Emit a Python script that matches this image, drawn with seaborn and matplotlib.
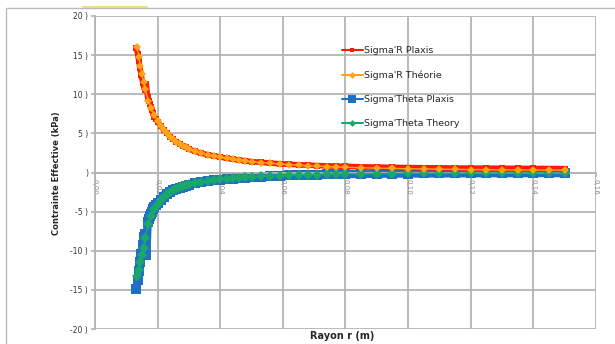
import matplotlib
matplotlib.use("Agg")
import matplotlib.pyplot as plt
import seaborn as sns
import pandas as pd
from matplotlib.patches import Rectangle
from matplotlib.lines import Line2D

# ---------------- data ----------------
r_theory = [0.0135, 0.014, 0.0145, 0.015, 0.0155, 0.016, 0.017, 0.018, 0.019, 0.020,
            0.021, 0.022, 0.023, 0.024, 0.025, 0.026, 0.027, 0.028, 0.029, 0.030,
            0.032, 0.034, 0.036, 0.038, 0.040, 0.042, 0.044, 0.046, 0.048, 0.050,
            0.053, 0.056, 0.059, 0.062, 0.065, 0.068, 0.071, 0.074, 0.077, 0.080,
            0.085, 0.090, 0.095, 0.100, 0.105, 0.110, 0.115, 0.120, 0.125, 0.130,
            0.135, 0.140, 0.145, 0.150]
sr_theory = [16.0, 14.8, 13.6, 12.6, 11.6, 10.7, 9.2, 8.2, 7.3, 6.6,
             6.0, 5.45, 5.0, 4.6, 4.25, 3.95, 3.65, 3.4, 3.2, 3.0,
             2.7, 2.45, 2.25, 2.1, 1.95, 1.8, 1.68, 1.57, 1.47, 1.38,
             1.27, 1.17, 1.08, 1.0, 0.93, 0.87, 0.81, 0.76, 0.71, 0.67,
             0.61, 0.56, 0.52, 0.48, 0.45, 0.42, 0.40, 0.38, 0.36, 0.34,
             0.33, 0.32, 0.31, 0.30]
st_theory = [-13.2, -12.4, -11.5, -10.6, -9.7, -8.4, -6.6, -5.5, -4.7, -4.0,
             -3.5, -3.1, -2.75, -2.5, -2.25, -2.05, -1.9, -1.75, -1.62, -1.52,
             -1.35, -1.2, -1.08, -0.97, -0.88, -0.80, -0.73, -0.67, -0.61, -0.56,
             -0.50, -0.45, -0.40, -0.36, -0.32, -0.29, -0.26, -0.24, -0.22, -0.20,
             -0.17, -0.15, -0.13, -0.12, -0.11, -0.10, -0.09, -0.08, -0.08, -0.07,
             -0.07, -0.06, -0.06, -0.06]

r_plaxis = [0.0132, 0.0136, 0.0140, 0.0144, 0.0148, 0.0152, 0.0156, 0.0160, 0.0164, 0.0168,
            0.0172, 0.0175, 0.0178, 0.0181, 0.0185, 0.0190, 0.0195, 0.0200, 0.0210, 0.0220,
            0.0230, 0.0240, 0.0250, 0.0260, 0.0270, 0.0280, 0.0290, 0.0300, 0.0320, 0.0340,
            0.0360, 0.0380, 0.0400, 0.0420, 0.0440, 0.0460, 0.0480, 0.0500, 0.0530, 0.0560,
            0.0590, 0.0620, 0.0650, 0.0680, 0.0710, 0.0740, 0.0770, 0.0800, 0.0850, 0.0900,
            0.0950, 0.1000, 0.1050, 0.1100, 0.1150, 0.1200, 0.1250, 0.1300, 0.1350, 0.1400,
            0.1450, 0.1500]
sr_plaxis = [15.9, 15.2, 14.2, 13.3, 12.4, 11.5, 10.9, 10.6, 11.3, 9.6,
             9.1, 8.8, 8.4, 8.0, 7.6, 7.1, 6.8, 6.5, 5.9, 5.4,
             5.0, 4.6, 4.25, 3.95, 3.65, 3.4, 3.2, 3.0, 2.7, 2.45,
             2.28, 2.12, 1.97, 1.82, 1.7, 1.59, 1.49, 1.4, 1.29, 1.2,
             1.12, 1.05, 0.99, 0.94, 0.89, 0.85, 0.81, 0.78, 0.73, 0.69,
             0.66, 0.63, 0.61, 0.59, 0.57, 0.56, 0.55, 0.54, 0.53, 0.52,
             0.51, 0.50]
st_plaxis = [-14.9, -13.8, -12.6, -11.5, -10.4, -9.3, -8.3, -7.9, -10.6, -6.3,
             -5.9, -5.6, -5.3, -5.0, -4.7, -4.35, -4.1, -3.9, -3.5, -3.1,
             -2.8, -2.55, -2.3, -2.1, -1.95, -1.8, -1.67, -1.57, -1.4, -1.25,
             -1.12, -1.01, -0.92, -0.84, -0.77, -0.70, -0.64, -0.59, -0.52, -0.46,
             -0.41, -0.37, -0.33, -0.30, -0.27, -0.25, -0.23, -0.21, -0.18, -0.16,
             -0.14, -0.13, -0.12, -0.11, -0.10, -0.09, -0.09, -0.08, -0.08, -0.07,
             -0.07, -0.07]

x_ticks = [0.00, 0.02, 0.04, 0.06, 0.08, 0.10, 0.12, 0.14, 0.16]
x_tick_labels = ["0,00", "0,02", "0,04", "0,06", "0,08", "0,10", "0,12", "0,14", "0,16"]
y_ticks = [-20, -15, -10, -5, 0, 5, 10, 15, 20]
y_tick_labels = ["-20 )", "-15 )", "-10 )", "-5 )", ")", "5 )", "10 )", "15 )", "20 )"]

labels = ["Sigma'R Plaxis", "Sigma'R Théorie", "Sigma'Theta Plaxis", "Sigma'Theta Theory"]
colors = ["#ff1a00", "#ffa31a", "#1f6fc4", "#1aa86a"]

# ---------------- plot ----------------
sns.set_theme(style="white")
plt.rcParams['font.family'] = ['DejaVu Sans']

fig = plt.figure(figsize=(6.15, 3.44), dpi=100)
ax = fig.add_axes([95/615, 1 - 329/344, (596 - 95)/615, (329 - 16)/344])

df_p = pd.DataFrame({"r": r_plaxis, "sr": sr_plaxis, "st": st_plaxis})
df_t = pd.DataFrame({"r": r_theory, "sr": sr_theory, "st": st_theory})

# Theta Plaxis (blue band of squares)
sns.lineplot(data=df_p, x="r", y="st", ax=ax, sort=False, estimator=None,
             color=colors[2], lw=6, marker="s", markersize=6.5, markeredgewidth=0,
             zorder=2)
# Theta theory
sns.lineplot(data=df_t, x="r", y="st", ax=ax, sort=False, estimator=None,
             color=colors[3], lw=1.0, marker="D", markersize=5.5, markeredgewidth=0,
             zorder=3)
# R Plaxis
sns.lineplot(data=df_p, x="r", y="sr", ax=ax, sort=False, estimator=None,
             color=colors[0], lw=4.0, marker="s", markersize=4.5, markeredgewidth=0,
             zorder=4)
# R theory
sns.lineplot(data=df_t, x="r", y="sr", ax=ax, sort=False, estimator=None,
             color=colors[1], lw=1.0, marker="D", markersize=4.5, markeredgewidth=0,
             zorder=5)

ax.set_xlim(0, 0.16)
ax.set_ylim(-20, 20)

for s in ["top", "right"]:
    ax.spines[s].set_visible(False)
ax.spines["bottom"].set_position(("data", 0))
ax.spines["left"].set_color("#b4b4b4")
ax.spines["left"].set_linewidth(1.3)
ax.spines["bottom"].set_color("#b4b4b4")
ax.spines["bottom"].set_linewidth(1.3)

ax.set_yticks(y_ticks)
ax.set_yticklabels(y_tick_labels, fontsize=5.5, color="#333333")
ax.set_xticks(x_ticks)
ax.set_xticklabels(x_tick_labels, fontsize=5, color="#888888", rotation=270)
ax.grid(True, color="#b4b4b4", lw=1.3)
ax.set_axisbelow(True)
ax.tick_params(axis="x", length=3, pad=2, color="#b4b4b4", direction="out", bottom=True)
ax.tick_params(axis="y", length=3, pad=2, color="#b4b4b4", direction="out", left=True)

ax.set_ylabel("")
ax.set_xlabel("")
fig.text(57/615, 1 - 173/344, "Contrainte Effective (kPa)", fontsize=6, fontweight="bold",
         ha="center", va="center", rotation=90)
fig.text(342/615, 1 - 336/344, "Rayon r (m)", fontsize=7, fontweight="bold",
         ha="center", va="center")

# legend
handles = [
    Line2D([], [], color=colors[0], lw=1.5, marker="s", markersize=3, markeredgewidth=0),
    Line2D([], [], color=colors[1], lw=1.5, marker="D", markersize=3.5, markeredgewidth=0),
    Line2D([], [], color=colors[2], lw=1.5, marker="s", markersize=6, markeredgewidth=0),
    Line2D([], [], color=colors[3], lw=1.5, marker="D", markersize=3.5, markeredgewidth=0),
]
ax.legend(handles, labels, loc="upper left", bbox_to_anchor=(0.485, 0.915),
          frameon=False, fontsize=6.8, labelspacing=1.6, handlelength=2.2,
          handletextpad=0.15, borderaxespad=0)

# outer chart frame
fig.patches.append(Rectangle((6/615, -0.01), 1.1, 1 - 8/344 + 0.01,
                             transform=fig.transFigure, fill=False,
                             edgecolor="#bbbbbb", lw=1.0))
fig.add_artist(Line2D([83/615, 147/615], [1 - 7/344, 1 - 7/344],
                      transform=fig.transFigure, color="#e8e070", lw=1.5))

fig.savefig("out.png", dpi=100)
